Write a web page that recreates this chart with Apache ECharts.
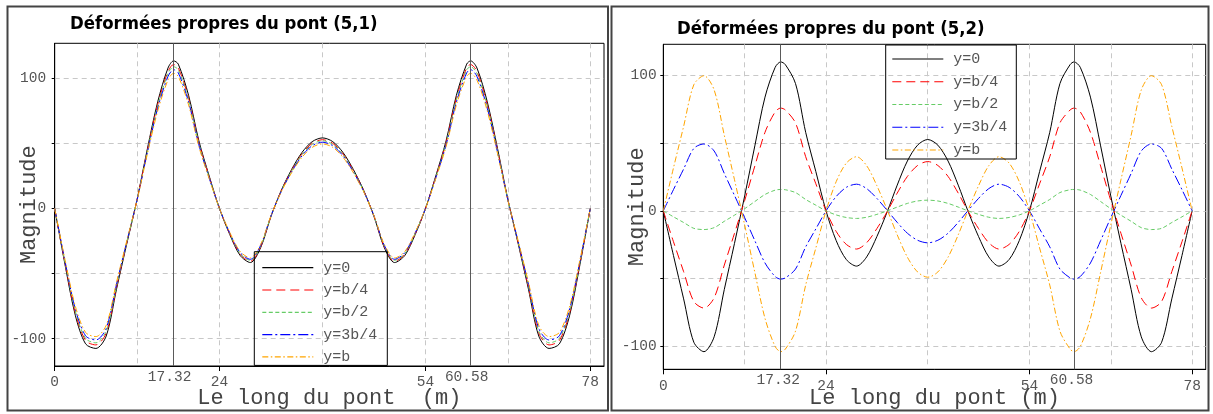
<!DOCTYPE html>
<html>
<head>
<meta charset="utf-8">
<script src="https://cdn.jsdelivr.net/npm/echarts@6/dist/echarts.min.js"></script>
<style>
html,body{margin:0;padding:0;background:#fff;}
#c{width:1213px;height:414px;}
</style>
</head>
<body>
<div id="c"></div>
<script>
// ---------- data ----------
const xs = [0,1.5,3,4.5,6,7.5,9,10.5,12,13.5,15,16.5,17.32,18,19.5,21,22.5,24,25.5,27,28.5,30,31.5,33,34.5,36,37.5,39,
  40.5,42,43.5,45,46.5,48,49.5,51,52.5,54,55.5,57,58.5,60,60.58,61.5,63,64.5,66,67.5,69,70.5,72,73.5,75,76.5,78];

const seriesNames = ['y=0','y=b/4','y=b/2','y=3b/4','y=b'];

// Panel 1 : mode (5,1)
const p1_y0 = [0,-43,-82,-104,-107.5,-98,-62,-27,7,46,82,108,113.5,111,87,52,25,0,-20,-36,-41.5,-30,-6,14,30,43,51.4,54.3,
  51.4,43,30,14,-6,-30,-41.5,-36,-20,0,25,52,87,111,113.5,108,82,46,7,-27,-62,-98,-107.5,-104,-82,-43,0];
const p1_yb4 = [0,-41.9,-80,-101.4,-104.8,-95.6,-60.5,-26.3,6.8,44.9,80,105.3,110.7,108.2,84.8,50.7,24.4,0,-19.5,-35.1,-40.5,-29.3,-5.9,13.7,29.3,41.9,50.1,52.9,
  50.1,41.9,29.3,13.7,-5.9,-29.3,-40.5,-35.1,-19.5,0,24.4,50.7,84.8,108.2,110.7,105.3,80,44.9,6.8,-26.3,-60.5,-95.6,-104.8,-101.4,-80,-41.9,0];
const p1_yb2 = [0,-41.3,-78.7,-99.8,-103.2,-94.1,-59.5,-25.9,6.7,44.2,78.7,103.7,109,106.6,83.5,49.9,24,0,-19.2,-34.6,-39.8,-28.8,-5.8,13.4,28.8,41.3,49.3,52.1,
  49.3,41.3,28.8,13.4,-5.8,-28.8,-39.8,-34.6,-19.2,0,24,49.9,83.5,106.6,109,103.7,78.7,44.2,6.7,-25.9,-59.5,-94.1,-103.2,-99.8,-78.7,-41.3,0];
const p1_y3b4 = [0,-40.4,-77.1,-97.8,-101,-92.1,-58.3,-25.4,6.6,43.2,77.1,101.5,106.7,104.3,81.8,48.9,23.5,0,-18.8,-33.8,-39,-28.2,-5.6,13.2,28.2,40.4,48.3,51,
  48.3,40.4,28.2,13.2,-5.6,-28.2,-39,-33.8,-18.8,0,23.5,48.9,81.8,104.3,106.7,101.5,77.1,43.2,6.6,-25.4,-58.3,-92.1,-101,-97.8,-77.1,-40.4,0];
const p1_yb = [0,-39.3,-75,-95.2,-98.4,-89.7,-56.7,-24.7,6.4,42.1,75,98.8,103.9,101.6,79.6,47.6,22.9,0,-18.3,-32.9,-38,-27.5,-5.5,12.8,27.5,39.3,47,49.7,
  47,39.3,27.5,12.8,-5.5,-27.5,-38,-32.9,-18.3,0,22.9,47.6,79.6,101.6,103.9,98.8,75,42.1,6.4,-24.7,-56.7,-89.7,-98.4,-95.2,-75,-39.3,0];

// Panel 2 : mode (5,2)
const p2_y0 = [0,-33,-65,-97,-104,-93,-58,-24,11,48,84,106,110,108,94,58,29,0,-22,-36,-40.8,-34,-19,-1,19,36.8,48.5,52.7,
  48.5,36.8,19,-1,-19,-34,-40.8,-36,-22,0,29,58,94,108,110,106,84,48,11,-24,-58,-93,-104,-97,-65,-33,0];
const p2_yb4 = [0,-22.8,-44.9,-66.9,-71.8,-64.2,-40,-16.6,7.6,33.1,58,73.1,75.9,74.5,64.9,40,20,0,-15.2,-24.8,-28.2,-23.5,-13.1,-0.7,13.1,25.4,33.5,36.4,
  33.5,25.4,13.1,-0.7,-13.1,-23.5,-28.2,-24.8,-15.2,0,20,40,64.9,74.5,75.9,73.1,58,33.1,7.6,-16.6,-40,-64.2,-71.8,-66.9,-44.9,-22.8,0];
const p2_yb2 = [0,-4.4,-8.6,-12.9,-13.8,-12.4,-7.7,-3.2,1.6,6.9,12.1,15.3,15.8,15.6,13.5,8.4,4.2,0,-3,-4.9,-5.6,-4.7,-2.6,-0.1,2.8,5.5,7.3,7.9,
  7.3,5.5,2.8,-0.1,-2.6,-4.7,-5.6,-4.9,-3,0,4.2,8.4,13.5,15.6,15.8,15.3,12.1,6.9,1.6,-3.2,-7.7,-12.4,-13.8,-12.9,-8.6,-4.4,0];
const p2_y3b4 = [0,15.7,30.9,46.1,49.4,44.2,27.6,11.4,-5,-22,-38.5,-48.5,-50.4,-49.5,-43,-26.6,-13.3,0,10.6,17.4,19.7,16.4,9.2,0.5,-8.5,-16.5,-21.7,-23.6,
  -21.7,-16.5,-8.5,0.5,9.2,16.4,19.7,17.4,10.6,0,-13.3,-26.6,-43,-49.5,-50.4,-48.5,-38.5,-22,-5,11.4,27.6,44.2,49.4,46.1,30.9,15.7,0];
const p2_yb = [0,31.7,62.4,93.1,99.8,89.3,55.7,23,-10.4,-45.4,-79.4,-100.2,-104,-102.1,-88.8,-54.8,-27.4,0,21.6,35.3,40,33.3,18.6,1,-17.7,-34.2,-45.1,-49,
  -45.1,-34.2,-17.7,1,18.6,33.3,40,35.3,21.6,0,-27.4,-54.8,-88.8,-102.1,-104,-100.2,-79.4,-45.4,-10.4,23,55.7,89.3,99.8,93.1,62.4,31.7,0];

const xTickLabels = [0,24,54,78];
const xSpecialLabels = [17.32,60.58];
const xGridValues = [12,24,39,54,66,78];
const yTickLabels = [-100,0,100];
const yGridValues = [-100,-50,0,50,100];
const titles = ['Déformées propres du pont (5,1)','Déformées propres du pont (5,2)'];
const xNames = ['Le long du pont  (m)','Le long du pont (m)'];
const yName = 'Magnitude';

// ---------- styles ----------
const colors = ['#000000','#ff0000','#66cc66','#0000ff','#ffa500'];
const dashes = ['solid',[9,5],[4,2.5],[10,3,2,3],[6,2.5,1.5,2.5]];
const mono = "'Liberation Mono', 'DejaVu Sans Mono', monospace";
const tickColor = '#555';

const panels = [
  {data:[p1_y0,p1_yb4,p1_yb2,p1_y3b4,p1_yb], grid:{left:54.7, top:43.3, width:549.3, height:322.7}, ymin:-121, ymax:127,
   lab:8.5, spec:3.5, xgap:21.5, ylab:8.5, ygap:15, specPad:[0,8,0,0],
   legend:{left:254.3, top:251.7, padding:[8.5,10,1,7.4], itemGap:7.3},
   title:{left:70, top:15}},
  {data:[p2_y0,p2_yb4,p2_yb2,p2_y3b4,p2_yb], grid:{left:663.3, top:44.3, width:542.4, height:325}, ymin:-117, ymax:123,
   lab:9, spec:3, xgap:17.5, ylab:6.7, ygap:15.3, specPad:[0,5,0,0],
   legend:{left:885.7, top:45, padding:[6.5,9,1.5,6], itemGap:7.75},
   title:{left:677, top:20}}
];

const grids=[], xAxes=[], yAxes=[], series=[], legends=[], titleOpts=[];
panels.forEach((p, pi) => {
  grids.push(Object.assign({show:true, borderColor:'#000', borderWidth:1, containLabel:false, outerBoundsMode:'none'}, p.grid));
  // main x axis
  xAxes.push({
    type:'value', gridIndex:pi, min:0, max:80, position:'bottom',
    axisLine:{show:true, onZero:false, lineStyle:{color:'#000', width:1}},
    axisTick:{show:true, length:5, customValues:xTickLabels, lineStyle:{color:'#000'}},
    axisLabel:{customValues:xTickLabels, margin:p.lab, fontFamily:mono, fontSize:14.5, color:tickColor},
    splitLine:{show:false},
    name:xNames[pi], nameLocation:'middle', nameGap:p.xgap, nameMoveOverlap:false,
    nameTextStyle:{fontFamily:mono, fontSize:22, color:'#444'}
  });
  // secondary x axis: grid lines + special labels
  xAxes.push({
    type:'value', gridIndex:pi, min:0, max:80, position:'bottom',
    axisLine:{show:false},
    axisTick:{show:false, customValues:xGridValues},
    axisLabel:{customValues:xSpecialLabels, margin:p.spec, padding:p.specPad, fontFamily:mono, fontSize:14.5, color:tickColor},
    splitLine:{show:true, lineStyle:{color:'#c8c8c8', type:[5,4], width:1}}
  });
  yAxes.push({
    type:'value', gridIndex:pi, min:p.ymin, max:p.ymax,
    axisLine:{show:true, onZero:false, lineStyle:{color:'#000'}},
    axisTick:{show:true, length:3, customValues:yGridValues, lineStyle:{color:'#000'}},
    axisLabel:{customValues:yTickLabels, margin:p.ylab, fontFamily:mono, fontSize:14.5, color:tickColor},
    splitLine:{show:true, lineStyle:{color:'#c8c8c8', type:[5,4], width:1}},
    name:yName, nameLocation:'middle', nameRotate:90, nameGap:p.ygap, nameMoveOverlap:false,
    nameTextStyle:{fontFamily:mono, fontSize:22, color:'#444'}
  });
  // vertical solid lines at 17.32 and 60.58
  series.push({
    type:'line', xAxisIndex:pi*2, yAxisIndex:pi, data:[], silent:true, z:1,
    markLine:{silent:true, symbol:'none', label:{show:false}, animation:false,
      lineStyle:{color:'#5a5a5a', type:'solid', width:1},
      data:xSpecialLabels.map(v => ({xAxis:v}))}
  });
  seriesNames.forEach((nm, si) => {
    series.push({
      type:'line', name:nm, xAxisIndex:pi*2, yAxisIndex:pi, z:3,
      data: xs.map((x,i) => [x, p.data[si][i]]),
      symbol:'none', smooth:0.3, clip:true,
      lineStyle:{color:colors[si], width:1, type:dashes[si]},
      itemStyle:{color:colors[si]}
    });
  });
  legends.push(Object.assign({
    orient:'vertical', data:seriesNames, itemWidth:51, itemHeight:14,
    borderColor:'#000', borderWidth:1, backgroundColor:'transparent', selectedMode:false,
    itemStyle:{color:'rgba(0,0,0,0)', borderWidth:0, opacity:0},
    lineStyle:{width:1.2},
    textStyle:{fontFamily:mono, fontSize:15, color:'#555', lineHeight:15, padding:[0,0,0,5]}
  }, p.legend));
  titleOpts.push({text:titles[pi], left:p.title.left, top:p.title.top, padding:0,
    textStyle:{fontFamily:"'DejaVu Sans Condensed', 'Liberation Sans Narrow', 'DejaVu Sans', sans-serif", fontSize:18.4, fontWeight:'bold', color:'#000'}});
});

const chart = echarts.init(document.getElementById('c'));
chart.setOption({
  animation:false,
  backgroundColor:'#fff',
  title:titleOpts,
  grid:grids, xAxis:xAxes, yAxis:yAxes, series:series, legend:legends,
  graphic:[
    {type:'rect', shape:{x:7.5, y:6.5, width:600.5, height:404}, style:{fill:'none', stroke:'#444', lineWidth:2}, silent:true},
    {type:'rect', shape:{x:611.5, y:6.5, width:597, height:404}, style:{fill:'none', stroke:'#444', lineWidth:2}, silent:true}
  ]
});
</script>
</body>
</html>
